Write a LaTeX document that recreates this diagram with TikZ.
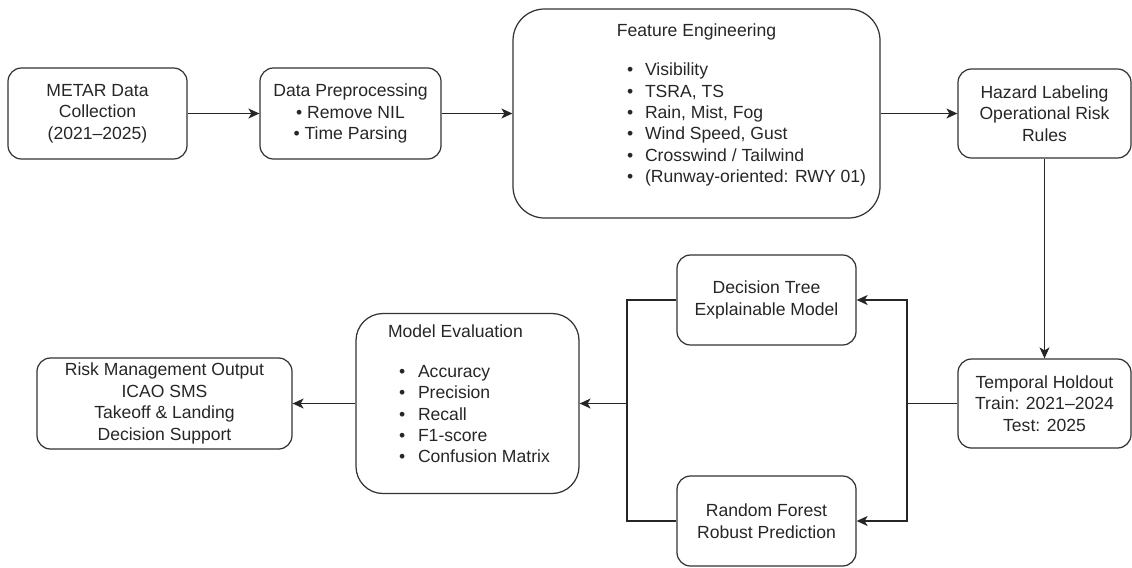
\documentclass[tikz,border=0pt]{standalone}
\usepackage{fontspec}
\setmainfont{Liberation Sans}
\usetikzlibrary{arrows.meta,positioning}

\begin{document}
\begin{tikzpicture}[
    stage/.style={draw=black!80, line width=0.7pt, rounded corners=0.27cm, minimum width=3.58cm, minimum height=1.82cm, align=center, inner sep=2pt, text=black!85},
    listbox/.style={draw=black!80, line width=0.7pt, inner sep=0pt, text=black!85},
    flow/.style={-{Stealth[length=2.2mm, width=2mm, inset=0.6mm]}, draw=black!85, line width=0.7pt},
    wire/.style={draw=black!85, line width=0.7pt},
    font=\fontsize{10}{12.2}\selectfont
]
\useasboundingbox (0,0) rectangle (22.64,-11.34);

% top row
\node[stage] (metar) at (1.95,-2.27) {METAR Data\\Collection\\(2021–2025)};
\node[stage, minimum width=3.62cm] (prep) at (7.01,-2.27) {Data Preprocessing\\• Remove NIL\\• Time Parsing};
\node[listbox, rounded corners=0.63cm] (feat) at (13.93,-2.27) {\begin{minipage}[c][4.18cm][t]{7.34cm}
    \vspace*{0.30cm}{\centering Feature Engineering\par}
    \vspace{0.35cm}\raggedright
    \hspace*{2.28cm}\makebox[0.36cm][l]{•}Visibility\\
    \hspace*{2.28cm}\makebox[0.36cm][l]{•}TSRA, TS\\
    \hspace*{2.28cm}\makebox[0.36cm][l]{•}Rain, Mist, Fog\\
    \hspace*{2.28cm}\makebox[0.36cm][l]{•}Wind Speed, Gust\\
    \hspace*{2.28cm}\makebox[0.36cm][l]{•}Crosswind / Tailwind\\
    \hspace*{2.28cm}\makebox[0.36cm][l]{•}(Runway-oriented: RWY 01)
  \end{minipage}};
\node[stage, minimum width=3.46cm, minimum height=1.78cm] (hazard) at (20.89,-2.27) {Hazard Labeling\\Operational Risk\\Rules};

% right column and models
\node[stage, minimum width=3.46cm, minimum height=1.78cm] (holdout) at (20.89,-8.07) {Temporal Holdout\\Train: 2021–2024\\Test: 2025};
\node[stage, minimum height=1.80cm] (tree) at (15.33,-6.00) {Decision Tree\\Explainable Model};
\node[stage, minimum height=1.80cm] (forest) at (15.33,-10.42) {Random Forest\\Robust Prediction};

% evaluation and output
\node[listbox, rounded corners=0.54cm] (eval) at (9.35,-8.07) {\begin{minipage}[c][3.60cm][t]{4.46cm}
    \vspace*{0.23cm}\raggedright
    \hspace*{0.64cm}Model Evaluation\par
    \vspace{0.36cm}
    \hspace*{0.86cm}\makebox[0.38cm][l]{•}Accuracy\\
    \hspace*{0.86cm}\makebox[0.38cm][l]{•}Precision\\
    \hspace*{0.86cm}\makebox[0.38cm][l]{•}Recall\\
    \hspace*{0.86cm}\makebox[0.38cm][l]{•}F1-score\\
    \hspace*{0.86cm}\makebox[0.38cm][l]{•}Confusion Matrix
  \end{minipage}};
\node[stage, minimum width=5.10cm] (risk) at (3.29,-8.07) {Risk Management Output\\ICAO SMS\\Takeoff \& Landing\\Decision Support};

\coordinate (fork) at (18.14,-8.07);
\coordinate (merge) at (12.54,-8.07);

\draw[flow] (metar.east) -- (prep.west);
\draw[flow] (prep.east) -- (feat.west);
\draw[flow] (feat.east) -- (hazard.west);
\draw[flow] (hazard.south) -- (holdout.north);
\draw[wire] (holdout.west) -- (fork);
\draw[flow] (fork) |- (tree.east);
\draw[flow] (fork) |- (forest.east);
\draw[wire] (tree.west) -| (merge);
\draw[wire] (forest.west) -| (merge);
\draw[flow] (merge) -- (eval.east);
\draw[flow] (eval.west) -- (risk.east);
\end{tikzpicture}
\end{document}
